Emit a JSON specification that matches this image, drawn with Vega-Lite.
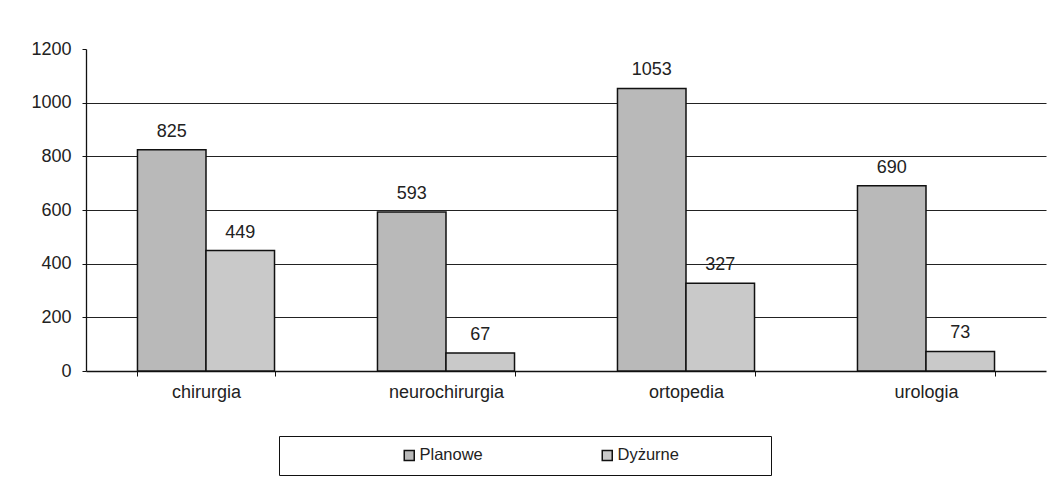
{
  "$schema": "https://vega.github.io/schema/vega-lite/v6.json",
  "background": "white",
  "padding": {"left": 30, "top": 40, "right": 12, "bottom": 0},
  "config": {"view": {"stroke": null}, "font": "Liberation Sans"},
  "width": 960,
  "height": 322,
  "data": {"values": [
    {"oddzial": "chirurgia", "typ": "Planowe", "wartosc": 825},
    {"oddzial": "chirurgia", "typ": "Dyżurne", "wartosc": 449},
    {"oddzial": "neurochirurgia", "typ": "Planowe", "wartosc": 593},
    {"oddzial": "neurochirurgia", "typ": "Dyżurne", "wartosc": 67},
    {"oddzial": "ortopedia", "typ": "Planowe", "wartosc": 1053},
    {"oddzial": "ortopedia", "typ": "Dyżurne", "wartosc": 327},
    {"oddzial": "urologia", "typ": "Planowe", "wartosc": 690},
    {"oddzial": "urologia", "typ": "Dyżurne", "wartosc": 73}
  ]},
  "encoding": {
    "x": {"field": "oddzial", "type": "nominal", "sort": ["chirurgia", "neurochirurgia", "ortopedia", "urologia"],
      "scale": {"paddingInner": 0.429, "paddingOuter": 0.2145},
      "axis": {"title": null, "labelAngle": 0, "labelFontSize": 18, "labelColor": "#222", "domainColor": "#111", "domainWidth": 1.3, "tickColor": "#111", "tickBand": "extent", "tickSize": 5, "labelPadding": 7}},
    "xOffset": {"field": "typ", "type": "nominal", "sort": ["Planowe", "Dyżurne"], "scale": {"paddingInner": 0, "paddingOuter": 0}},
    "y": {"field": "wartosc", "type": "quantitative", "scale": {"domain": [0, 1200], "nice": false},
      "axis": {"title": null, "format": "d", "values": [0, 200, 400, 600, 800, 1000, 1200], "grid": true, "gridColor": "#222", "gridWidth": 1.2,
        "gridOpacity": {"condition": {"test": "datum.value === 1200 || datum.value === 0", "value": 0}, "value": 1},
        "labelFontSize": 18, "labelColor": "#222", "domainColor": "#111", "domainWidth": 1.3, "tickColor": "#111", "tickSize": 4, "labelPadding": 11}}
  },
  "layer": [
    {"mark": {"type": "bar", "stroke": "#111", "strokeWidth": 1.5},
      "encoding": {"color": {"field": "typ", "type": "nominal", "sort": ["Planowe", "Dyżurne"],
        "scale": {"domain": ["Planowe", "Dyżurne"], "range": ["#b9b9b9", "#c9c9c9"]},
        "legend": {"orient": "none", "legendX": 193, "legendY": 387, "direction": "horizontal",
          "title": " ", "titleOrient": "right", "titlePadding": 81, "titleFontSize": 4,
          "strokeColor": "#111", "padding": 11, "symbolType": "square", "symbolSize": 100,
          "symbolStrokeColor": "#111", "symbolStrokeWidth": 1.5, "symbolOpacity": 1, "symbolOffset": 111,
          "labelFontSize": 16.5, "labelColor": "#222", "labelOffset": 2, "columnPadding": 5, "labelLimit": 300}}}},
    {"mark": {"type": "text", "dy": -13, "baseline": "alphabetic", "fontSize": 18, "color": "#222"},
      "encoding": {"text": {"field": "wartosc", "type": "quantitative"}}}
  ]
}
